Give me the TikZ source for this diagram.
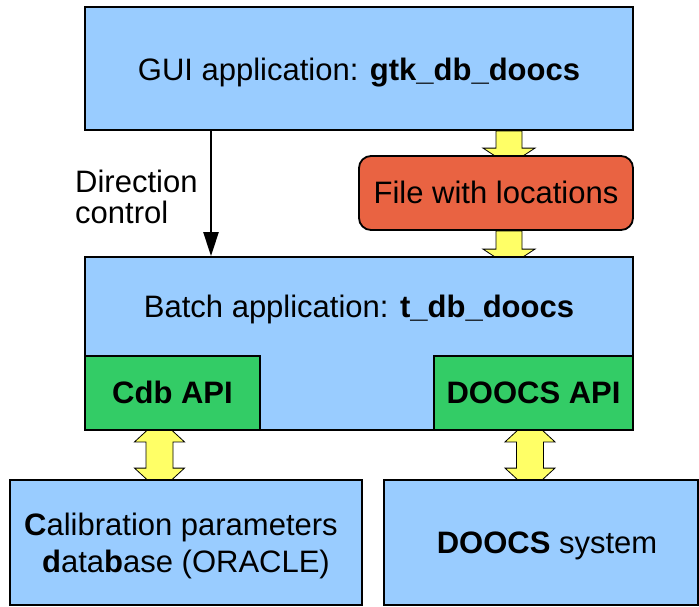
\documentclass[tikz,border=0pt]{standalone}
\usepackage{fontspec}
\setmainfont{Liberation Sans}
\usetikzlibrary{calc,backgrounds,arrows.meta}
\definecolor{boxblue}{RGB}{153,204,255}
\definecolor{apigreen}{RGB}{51,204,102}
\definecolor{filered}{RGB}{233,99,66}
\definecolor{arrowyellow}{RGB}{255,255,102}
\newcommand\ydown[2]{%
  \path[yarr] let \p1=#1, \p2=#2 in
    (\x1-13pt,\y1) -- (\x1-13pt,\y2+7pt) -- (\x1-26pt,\y2+7pt) -- (\x1,\y2-10pt)
    -- (\x1+26pt,\y2+7pt) -- (\x1+13pt,\y2+7pt) -- (\x1+13pt,\y1) -- cycle;}
\newcommand\ydouble[2]{%
  \path[yarr] let \p1=#1, \p2=#2 in
    (\x1,\y1+12pt) -- (\x1+25pt,\y1-11pt) -- (\x1+13.5pt,\y1-11pt) -- (\x1+13.5pt,\y2+11pt)
    -- (\x1+25pt,\y2+11pt) -- (\x1,\y2-12pt) -- (\x1-25pt,\y2+11pt) -- (\x1-13.5pt,\y2+11pt)
    -- (\x1-13.5pt,\y1-11pt) -- (\x1-25pt,\y1-11pt) -- cycle;}
\begin{document}
\begin{tikzpicture}[x=1pt,y=-1pt,
  font=\fontsize{31}{36}\selectfont,
  box/.style={draw=black, line width=1.8pt, fill=boxblue, inner sep=0pt},
  apibox/.style={box, fill=apigreen},
  filebox/.style={box, fill=filered, rounded corners=12pt},
  lbl/.style={anchor=base, inner sep=0pt},
  yarr/.style={draw=black, line width=0.8pt, fill=arrowyellow},
  ctrl/.style={line width=2.4pt, -{Triangle[length=24pt,width=15pt]}}]
\useasboundingbox (0,0) rectangle (699,606);
\node[box, minimum width=548pt, minimum height=123pt] (gui) at (359,68.5) {};
\node[filebox, minimum width=274pt, minimum height=74pt] (file) at (496,193) {};
\node[box, minimum width=548pt, minimum height=173pt] (batch) at (359,343.5) {};
\node[apibox, minimum width=175pt, minimum height=74pt] (cdb) at (172.5,393) {};
\node[apibox, minimum width=199pt, minimum height=74pt] (dapi) at (533.5,393) {};
\node[box, minimum width=352pt, minimum height=125pt] (calib) at (186,542.5) {};
\node[box, minimum width=314pt, minimum height=125pt] (dsys) at (541,542.5) {};
% labels
\node[lbl] (guiT) at (359,80) {GUI application: \textbf{gtk\_db\_doocs}};
\node[lbl] (fileT) at (496,203) {File with locations};
\node[lbl] (batchT) at (359,317) {Batch application: \textbf{t\_db\_doocs}};
\node[lbl] (cdbT) at (172.5,403) {\textbf{Cdb API}};
\node[lbl] (dapiT) at (533.5,403) {\textbf{DOOCS API}};
\node[lbl] (calT1) at (181,535) {\textbf{C}alibration parameters};
\node[lbl] (calT2) at (186,572) {\textbf{d}ata\textbf{b}ase (ORACLE)};
\node[lbl] (sysT) at (547,553) {\textbf{DOOCS} system};
\node[lbl, anchor=base west] (dir1) at (75,192) {Direction};
\node[lbl, anchor=base west] (dir2) at (75,223) {control};
% connectors
\coordinate (dc) at (211,0);
\coordinate (ya) at (509,0);
\coordinate (yb) at (159.5,0);
\coordinate (yc) at (530,0);
\draw[ctrl] (dc |- gui.south) -- (dc |- batch.north);
\begin{scope}[on background layer]
\ydown{(ya |- gui.south)}{(ya |- file.north)}
\ydown{(ya |- file.south)}{(ya |- batch.north)}
\ydouble{(yb |- cdb.south)}{(yb |- calib.north)}
\ydouble{(yc |- dapi.south)}{(yc |- dsys.north)}
\end{scope}
\end{tikzpicture}
\end{document}
